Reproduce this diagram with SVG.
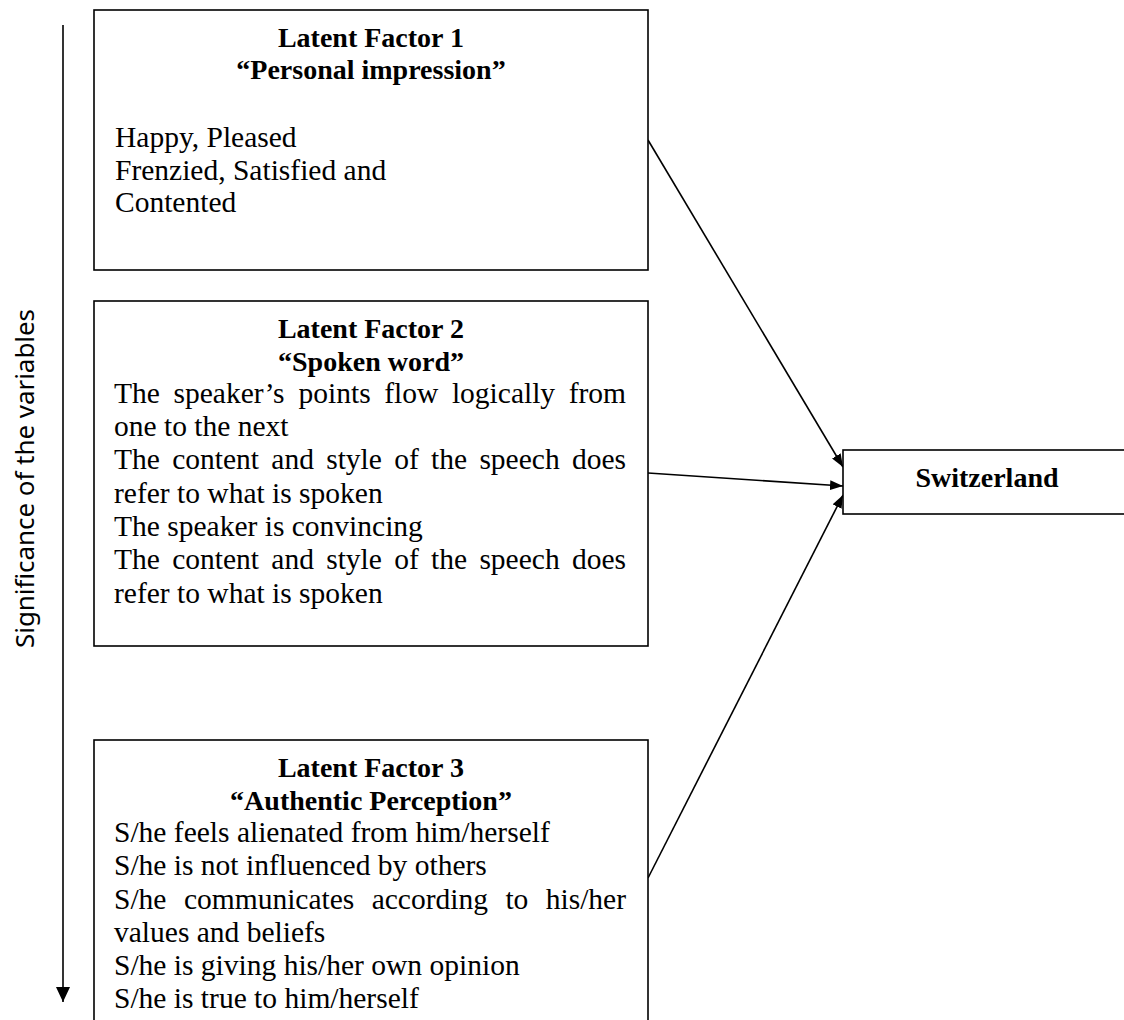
<svg xmlns="http://www.w3.org/2000/svg" width="1124" height="1020" viewBox="0 0 1124 1020">
<style>
  .box { fill: #fff; stroke: #000; stroke-width: 1.6; }
  .title { font-family: "Liberation Serif", serif; font-weight: bold; font-size: 28px; text-anchor: middle; fill: #000; }
  .body { font-family: "Liberation Serif", serif; font-size: 29.5px; fill: #000; }
  .conn { stroke: #000; stroke-width: 1.6; fill: none; }
  .axis-label { font-family: "Noto Sans", sans-serif; font-size: 25px; fill: #000; }
</style>
<defs>
  <marker id="arrow" markerUnits="userSpaceOnUse" markerWidth="14" markerHeight="10" refX="13" refY="5" orient="auto">
    <path d="M0,0 L13,5 L0,10 z" fill="#000"/>
  </marker>
  <marker id="axisArrow" markerUnits="userSpaceOnUse" markerWidth="16" markerHeight="16" refX="15" refY="7" orient="auto">
    <path d="M0,0 L15,7 L0,14 z" fill="#000"/>
  </marker>
</defs>

<g id="axis">
  <line class="conn" x1="63" y1="25" x2="63" y2="1002" stroke-width="2" marker-end="url(#axisArrow)"/>
  <text class="axis-label" transform="translate(34,648) rotate(-90)" textLength="339" lengthAdjust="spacingAndGlyphs">Significance of the variables</text>
</g>

<g id="connectors">
  <line class="conn" x1="648" y1="140" x2="843" y2="467" marker-end="url(#arrow)"/>
  <line class="conn" x1="648" y1="473" x2="843" y2="486" marker-end="url(#arrow)"/>
  <line class="conn" x1="648" y1="878" x2="843" y2="495" marker-end="url(#arrow)"/>
</g>

<g id="factor1">
  <rect class="box" x="94" y="10" width="554" height="260"/>
  <text class="title" x="371" y="47">Latent Factor 1</text>
  <text class="title" x="371" y="79">“Personal impression”</text>
  <text class="body" x="115" y="147">Happy, Pleased</text>
  <text class="body" x="115" y="180">Frenzied, Satisfied and</text>
  <text class="body" x="115" y="212">Contented</text>
</g>

<g id="factor2">
  <rect class="box" x="94" y="301" width="554" height="345"/>
  <text class="title" x="371" y="338">Latent Factor 2</text>
  <text class="title" x="371" y="371">“Spoken word”</text>
  <text class="body" y="403"><tspan x="114">The</tspan><tspan x="173.5">speaker’s</tspan><tspan x="298.5">points</tspan><tspan x="384.2">flow</tspan><tspan x="451.9">logically</tspan><tspan x="626" text-anchor="end">from</tspan></text>
  <text class="body" x="114" y="436">one to the next</text>
  <text class="body" y="469"><tspan x="114">The</tspan><tspan x="172.2">content</tspan><tspan x="271.3">and</tspan><tspan x="326.2">style</tspan><tspan x="394.2">of</tspan><tspan x="431.1">the</tspan><tspan x="479.4">speech</tspan><tspan x="626" text-anchor="end">does</tspan></text>
  <text class="body" x="114" y="503">refer to what is spoken</text>
  <text class="body" x="114" y="536">The speaker is convincing</text>
  <text class="body" y="569"><tspan x="114">The</tspan><tspan x="172.2">content</tspan><tspan x="271.3">and</tspan><tspan x="326.2">style</tspan><tspan x="394.2">of</tspan><tspan x="431.1">the</tspan><tspan x="479.4">speech</tspan><tspan x="626" text-anchor="end">does</tspan></text>
  <text class="body" x="114" y="603">refer to what is spoken</text>
</g>

<g id="factor3">
  <rect class="box" x="94" y="740" width="554" height="300"/>
  <text class="title" x="371" y="777">Latent Factor 3</text>
  <text class="title" x="371" y="810">“Authentic Perception”</text>
  <text class="body" x="114" y="842">S/he feels alienated from him/herself</text>
  <text class="body" x="114" y="875">S/he is not influenced by others</text>
  <text class="body" y="909"><tspan x="114">S/he</tspan><tspan x="183.9">communicates</tspan><tspan x="371.7">according</tspan><tspan x="505.4">to</tspan><tspan x="626" text-anchor="end">his/her</tspan></text>
  <text class="body" x="114" y="942">values and beliefs</text>
  <text class="body" x="114" y="975">S/he is giving his/her own opinion</text>
  <text class="body" x="114" y="1008">S/he is true to him/herself</text>
</g>

<g id="switzerland">
  <rect class="box" x="843" y="450" width="290" height="64"/>
  <text class="title" x="987" y="487" font-size="30">Switzerland</text>
</g>
</svg>
